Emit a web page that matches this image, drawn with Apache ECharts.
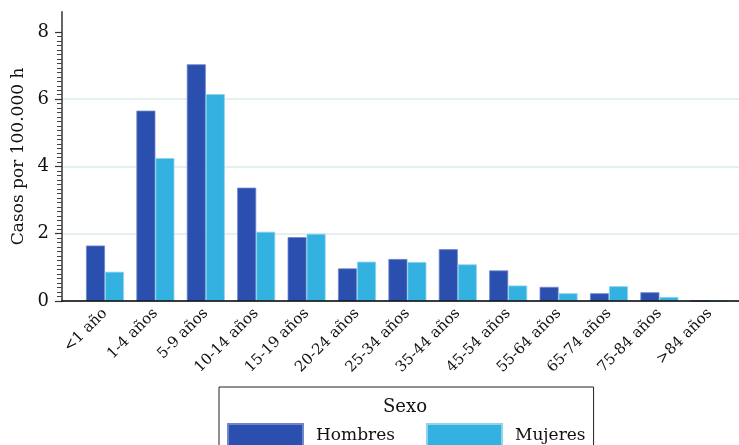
<!DOCTYPE html>
<html>
<head>
<meta charset="utf-8">
<script src="https://cdn.jsdelivr.net/npm/echarts@6/dist/echarts.min.js"></script>
<style>
html,body{margin:0;padding:0;background:#fff;}
#chart{width:739px;height:445px;}
</style>
</head>
<body>
<div id="chart"></div>
<script>
const categories = ['<1 año','1-4 años','5-9 años','10-14 años','15-19 años','20-24 años','25-34 años','35-44 años','45-54 años','55-64 años','65-74 años','75-84 años','>84 años'];
const hombres = [1.65, 5.66, 7.04, 3.37, 1.90, 0.97, 1.25, 1.54, 0.91, 0.42, 0.23, 0.26, 0];
const mujeres = [0.87, 4.25, 6.15, 2.06, 2.00, 1.17, 1.16, 1.09, 0.46, 0.23, 0.44, 0.12, 0];
const yTicks = [0, 2, 4, 6, 8];
const seriesNames = ['Hombres', 'Mujeres'];
const legendTitle = 'Sexo';
const yName = 'Casos por 100.000 h';

const minorTicks = [];
for (let i = 0; i < yTicks.length - 1; i++) {
  const a = yTicks[i], b = yTicks[i + 1];
  for (let k = 1; k < 15; k++) minorTicks.push(a + (b - a) * k / 15);
}

const FONT = 'DejaVu Serif';
const chart = echarts.init(document.getElementById('chart'), null, {renderer: 'canvas'});
const gTop = 11.8, gBottom = 144;
chart.setOption({
  animation: false,
  textStyle: {fontFamily: FONT},
  grid: [
    {left: 62, right: 0, top: gTop, bottom: gBottom},
    {left: 79.8, right: 4, top: gTop, bottom: gBottom}
  ],
  xAxis: [
    {gridIndex: 0, type: 'value', min: 0, max: 1, z: 10,
     axisLine: {show: true, onZero: false, lineStyle: {color: '#000', width: 1.5}},
     axisTick: {show: false}, axisLabel: {show: false}, splitLine: {show: false}},
    {gridIndex: 1, type: 'category', data: categories, boundaryGap: true,
     axisLine: {show: false}, axisTick: {show: false},
     axisLabel: {rotate: 45, margin: 10, interval: 0, fontFamily: FONT, fontSize: 15, color: '#111'}}
  ],
  yAxis: [
    {gridIndex: 0, type: 'value', min: 0, max: 8.6, interval: 2,
     name: yName, nameLocation: 'middle', nameGap: 31,
     nameTextStyle: {fontFamily: FONT, fontSize: 17, color: '#111'},
     axisLine: {show: true, lineStyle: {color: '#333', width: 1.5}},
     axisTick: {show: true, length: 7, customValues: yTicks, lineStyle: {color: '#333', width: 1.2}},
     axisLabel: {customValues: yTicks, margin: 13, fontFamily: FONT, fontSize: 18, color: '#111'},
     splitLine: {show: true, showMaxLine: false, lineStyle: {color: '#DCECEC', width: 1.5}}},
    {gridIndex: 0, type: 'value', min: 0, max: 8.6, position: 'left',
     axisLine: {show: false},
     axisTick: {show: true, length: 5, customValues: minorTicks, lineStyle: {color: '#444', width: 1}},
     axisLabel: {show: false}, splitLine: {show: false}},
    {gridIndex: 1, type: 'value', min: 0, max: 8.6, show: false}
  ],
  legend: {
    data: seriesNames, left: 219, top: 387, orient: 'horizontal',
    padding: [36, 8, 12, 8], itemGap: 31, itemWidth: 75, itemHeight: 24,
    icon: 'rect', borderColor: '#222', borderWidth: 1,
    textStyle: {fontFamily: FONT, fontSize: 17, color: '#111', padding: [0, 0, 0, 8]}
  },
  graphic: [{type: 'text', x: 405, y: 398, style: {text: legendTitle, fontFamily: FONT, fontSize: 18, fill: '#111', textAlign: 'center', textVerticalAlign: 'top'}}],
  series: [
    {name: seriesNames[0], type: 'bar', xAxisIndex: 1, yAxisIndex: 2, data: hombres,
     barWidth: 19, barGap: '0%', itemStyle: {color: '#2A4FAF', borderColor: '#6F86CC', borderWidth: 0.8}},
    {name: seriesNames[1], type: 'bar', xAxisIndex: 1, yAxisIndex: 2, data: mujeres,
     barWidth: 19, barGap: '0%', itemStyle: {color: '#33B1E0', borderColor: '#8FD3EE', borderWidth: 0.8}}
  ]
});
</script>
</body>
</html>
